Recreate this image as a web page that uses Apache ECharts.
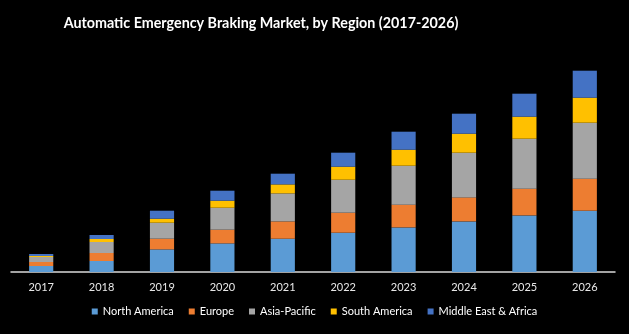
<!DOCTYPE html>
<html>
<head>
<meta charset="utf-8">
<script src="https://cdn.jsdelivr.net/npm/echarts@6/dist/echarts.min.js"></script>
<style>
  html, body { margin: 0; padding: 0; background: #000; }
  #chart { width: 629px; height: 334px; }
</style>
</head>
<body>
<div id="chart"></div>
<script>
// Market size by region, stacked per year
const years = ['2017', '2018', '2019', '2020', '2021', '2022', '2023', '2024', '2025', '2026'];
const northAmerica = [6, 11, 22.6, 28.6, 33.3, 39.3, 44.6, 50.6, 56.6, 61.3];
const europe = [4, 8, 10.7, 13.7, 17.3, 20, 22.7, 24, 26.7, 32];
const asiaPacific = [5, 11, 16, 22, 28, 33, 39, 44.7, 50, 56];
const southAmerica = [1, 3, 4, 7, 9, 13, 16, 19, 22, 25];
const middleEastAfrica = [2, 4, 8, 10, 10.7, 14, 18, 20, 23, 27];

const regions = [
  { name: 'North America', data: northAmerica, color: '#5B9BD5' },
  { name: 'Europe', data: europe, color: '#ED7D31' },
  { name: 'Asia-Pacific', data: asiaPacific, color: '#A5A5A5' },
  { name: 'South America', data: southAmerica, color: '#FFC000' },
  { name: 'Middle East & Africa', data: middleEastAfrica, color: '#4472C4' }
];

const font = 'Lato';
const chart = echarts.init(document.getElementById('chart'), null, { renderer: 'canvas' });

chart.setOption({
  backgroundColor: '#000',
  animation: false,
  title: {
    text: 'Automatic Emergency Braking Market, by Region (2017-2026)',
    left: 256,
    top: 11,
    textAlign: 'center',
    textStyle: { color: '#fff', fontFamily: font, fontWeight: 'bold', fontSize: 14.3 }
  },
  legend: {
    bottom: 12,
    left: 'center',
    itemWidth: 6,
    itemHeight: 6,
    itemGap: 15,
    icon: 'rect',
    textStyle: { color: '#fff', fontFamily: font, fontSize: 11 },
    data: regions.map(r => r.name)
  },
  grid: { left: 11, right: 14, top: 62, bottom: 62 },
  xAxis: {
    type: 'category',
    data: years,
    axisLine: { lineStyle: { color: '#d9d9d9', width: 1.5 } },
    axisTick: { show: false },
    axisLabel: { color: '#e8e8e8', fontFamily: font, fontSize: 11, margin: 10 }
  },
  yAxis: {
    type: 'value',
    min: 0,
    max: 210,
    show: false,
    splitLine: { show: false }
  },
  series: regions.map(r => ({
    name: r.name,
    type: 'bar',
    stack: 'total',
    barWidth: '40%',
    data: r.data,
    itemStyle: { color: r.color }
  }))
});
</script>
</body>
</html>
